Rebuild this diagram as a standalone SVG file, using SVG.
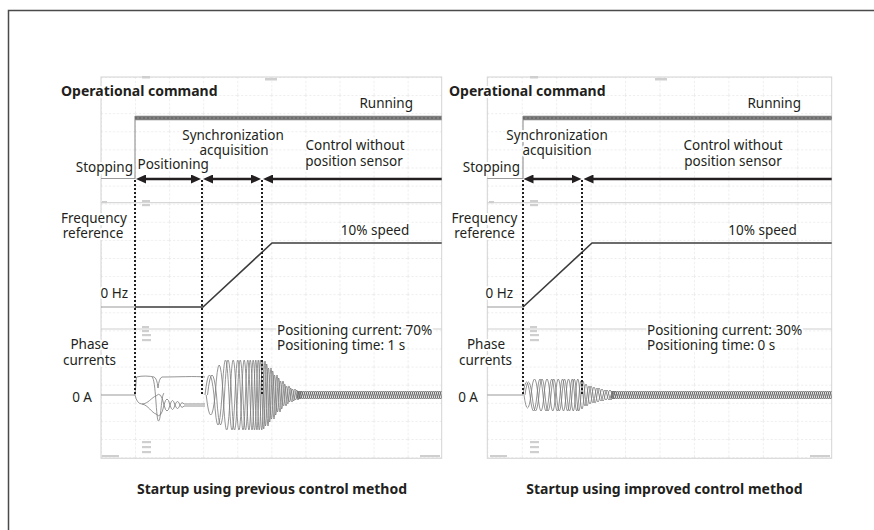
<svg xmlns="http://www.w3.org/2000/svg" xmlns:xlink="http://www.w3.org/1999/xlink" width="874" height="530" viewBox="0 0 874 530">
<defs>
<style>
.t{font-family:"Noto Sans","Liberation Sans",sans-serif;font-size:13.5px;fill:#231f20;paint-order:stroke;stroke:#fff;stroke-width:4px;stroke-linejoin:round}
.b{font-weight:bold;font-size:14px}
.m{text-anchor:middle}
.e{text-anchor:end}
.plotL{fill:url(#gridL);stroke:#d4d4d4;stroke-width:1}
.plotR{fill:url(#gridR);stroke:#d4d4d4;stroke-width:1}
.div{stroke:#cfcfcf;stroke-width:1;fill:none}
.arr{stroke:#231f20;stroke-width:2.6;fill:none}
.dot{stroke:#231f20;stroke-width:2;stroke-dasharray:2 2;fill:none}
.wave{stroke:#7a7a7a;stroke-width:0.8;fill:none}
.freq{stroke:#3c3c3c;stroke-width:1.6;fill:none}
.pre{stroke:#9a9a9a;stroke-width:1.2;fill:none}
.run{stroke:#808080;stroke-width:4.5;fill:none}
.runt{stroke:#5a5a5a;stroke-width:1.2;stroke-dasharray:2 2;fill:none}
.blob{fill:#cfcfcf}
</style>
<marker id="ah" markerUnits="userSpaceOnUse" markerWidth="10" markerHeight="9" refX="5" refY="4.5" orient="auto-start-reverse" viewBox="0 0 10 9"><path d="M0,0 L10,4.5 L0,9 z" fill="#231f20"/></marker>
<pattern id="gridL" patternUnits="userSpaceOnUse" x="101" y="77" width="34.07" height="18.1"><path d="M0,0.5H34.07M0.5,0V18.1" stroke="#ececec" stroke-width="1" stroke-dasharray="2 2" fill="none"/></pattern>
<pattern id="gridR" patternUnits="userSpaceOnUse" x="487.3" y="77" width="34.44" height="18.1"><path d="M0,0.5H34.44M0.5,0V18.1" stroke="#ececec" stroke-width="1" stroke-dasharray="2 2" fill="none"/></pattern>
<pattern id="band" patternUnits="userSpaceOnUse" x="0" y="389" width="6" height="12">
<g fill="none" stroke="#6a6a6a" stroke-width="0.9">
<path id="bw" d="M-6,6 Q-4.5,-2 -3,6 Q-1.5,14 0,6 Q1.5,-2 3,6 Q4.5,14 6,6 Q7.5,-2 9,6 Q10.5,14 12,6"/>
<use xlink:href="#bw" href="#bw" x="2"/>
<use xlink:href="#bw" href="#bw" x="4"/>
</g>
</pattern>
<path id="w1" class="wave" d="M205,395 Q209.5,355 214,395 Q218,455 222,395 Q225.5,325 229,395 Q232,465 235,395 Q237.75,325 240.5,395 Q243,465 245.5,395 Q247.75,325 250,395 Q252,465 254,395 Q255.75,325 257.5,395 Q259.25,465 261,395 Q262.5,327 264,395 Q265.5,457 267,395 Q268.5,341 270,395 Q271.5,443 273,395 Q274.5,355 276,395 Q277.5,429 279,395 Q280.5,367 282,395 Q283.5,417 285,395 Q286.5,377 288,395 Q289.5,409 291,395 Q292.5,383 294,395 Q295.5,405 297,395 Q298.5,387 300,395"/>
<path id="w2" class="wave" d="M523,395 Q526.5,369 530,395 Q533.5,427 537,395 Q540,363 543,395 Q546,427 549,395 Q551.75,363 554.5,395 Q557.25,427 560,395 Q562.5,363 565,395 Q567.5,427 570,395 Q572.25,363 574.5,395 Q576.75,427 579,395 Q581,367 583,395 Q585,417 587,395 Q589,377 591,395 Q593,411 595,395 Q597,381 599,395 Q601,407 603,395 Q605,385 607,395 Q609,405 611,395 Q613,387 615,395"/>
</defs>

<rect x="0" y="0" width="874" height="530" fill="#fff"/>
<path id="frame" d="M8.5,530V10.5H874" fill="none" stroke="#4a4a4a" stroke-width="1.5"/>

<!-- LEFT PANEL -->
<g id="panel-left">
  <g id="scope-left">
    <rect class="plotL" x="101" y="77" width="340.7" height="381.3"/>
    <path class="div" d="M101,202.7H441.7M101,329H441.7"/>
    <rect class="blob" x="142" y="76" width="8" height="2.5"/>
    <rect class="blob" x="265" y="78" width="12" height="2.5"/>
    <rect class="blob" x="142" y="200" width="8" height="2.2"/>
    <rect class="blob" x="142" y="204" width="8" height="2.2"/>
    <rect class="blob" x="102" y="201" width="5" height="2.2"/>
    <rect class="blob" x="142" y="326" width="7" height="2.2"/>
    <rect class="blob" x="142" y="330" width="7" height="2.2"/>
    <rect class="blob" x="142" y="334" width="9" height="2.2"/>
    <rect class="blob" x="142" y="339" width="9" height="2.2"/>
    <rect class="blob" x="142" y="441" width="9" height="2.2"/>
    <rect class="blob" x="142" y="446" width="9" height="2.2"/>
    <rect class="blob" x="142" y="451" width="9" height="2.2"/>
    <rect class="blob" x="102" y="455" width="17" height="2.2"/>
    <rect class="blob" x="420" y="455" width="20" height="2.2"/>
  </g>
  <g id="trace-op-left">
    <path class="pre" d="M101,178.5H135M135,116V179"/>
    <path class="run" d="M135,118H441.7"/>
    <path class="runt" d="M135,118H441.7"/>
  </g>
  <g id="trace-freq-left">
    <path class="pre" d="M101,307H135"/>
    <path class="freq" d="M135,307H203L272,243H441.7"/>
  </g>
  <g id="trace-phase-left">
    <path class="pre" d="M101,395H135"/>
    <path class="wave" d="M135,395 L136.5,377 C142,375.5 150,376 154,377 Q157,378 158,388 Q159,378 162,377 C178,377 195,376 205,377"/>
    <path class="wave" d="M135,395 Q137,404 142,404 C148,404 152,397 156,396 Q161,390 164,405 Q167,417 170,405 Q172.5,396 175,405 Q177.5,412 180,405 Q182,401 184,404 L205,404"/>
    <path class="wave" d="M142,404 C148,405 152,413 156,414 Q161,420 164,405 Q167,393 170,405 Q172.5,414 175,405 Q177.5,398 180,405 Q182,409 184,406 L205,406"/>
    <path class="wave" d="M152,377 C156,379 156,421 158.5,421 C161,421 161,396 164,393"/>
    <use xlink:href="#w1" href="#w1"/>
    <use xlink:href="#w1" href="#w1" transform="translate(2.5,0)"/>
    <use xlink:href="#w1" href="#w1" transform="matrix(1,0,0,-1,1.2,790)"/>
    <rect x="297" y="389" width="144.7" height="12" fill="url(#band)"/>
  </g>
</g>

<!-- RIGHT PANEL -->
<g id="panel-right">
  <g id="scope-right">
    <rect class="plotR" x="487.3" y="77" width="344.4" height="381.3"/>
    <path class="div" d="M487.3,202.7H831.7M487.3,329H831.7"/>
    <rect class="blob" x="530" y="76" width="8" height="2.5"/>
    <rect class="blob" x="655" y="78" width="12" height="2.5"/>
    <rect class="blob" x="530" y="200" width="8" height="2.2"/>
    <rect class="blob" x="530" y="204" width="8" height="2.2"/>
    <rect class="blob" x="489" y="201" width="5" height="2.2"/>
    <rect class="blob" x="530" y="326" width="7" height="2.2"/>
    <rect class="blob" x="530" y="330" width="7" height="2.2"/>
    <rect class="blob" x="530" y="334" width="9" height="2.2"/>
    <rect class="blob" x="530" y="339" width="9" height="2.2"/>
    <rect class="blob" x="530" y="441" width="9" height="2.2"/>
    <rect class="blob" x="530" y="446" width="9" height="2.2"/>
    <rect class="blob" x="530" y="451" width="9" height="2.2"/>
    <rect class="blob" x="490" y="455" width="17" height="2.2"/>
    <rect class="blob" x="810" y="455" width="20" height="2.2"/>
  </g>
  <g id="trace-op-right">
    <path class="pre" d="M487.3,178.5H523M523,116V179"/>
    <path class="run" d="M523,118H831.7"/>
    <path class="runt" d="M523,118H831.7"/>
  </g>
  <g id="trace-freq-right">
    <path class="pre" d="M487.3,307H523"/>
    <path class="freq" d="M523,307L592,243H831.7"/>
  </g>
  <g id="trace-phase-right">
    <path class="pre" d="M487.3,395H523"/>
    <use xlink:href="#w2" href="#w2"/>
    <use xlink:href="#w2" href="#w2" transform="translate(2,0)"/>
    <use xlink:href="#w2" href="#w2" transform="matrix(1,0,0,-1,1,790)"/>
    <rect x="611" y="389" width="220.7" height="12" fill="url(#band)"/>
  </g>
</g>

<!-- CONNECTORS: phase arrows and dotted markers -->
<g id="connectors">
  <path class="dot" d="M135,180V395M202,180V395M262,180V395M523,180V395M582,180V395"/>
  <path class="arr" d="M141,179H196" marker-start="url(#ah)" marker-end="url(#ah)"/>
  <path class="arr" d="M208,179H256" marker-start="url(#ah)" marker-end="url(#ah)"/>
  <path class="arr" d="M268,179H441.7" marker-start="url(#ah)"/>
  <path class="arr" d="M528.5,179H576.5" marker-start="url(#ah)" marker-end="url(#ah)"/>
  <path class="arr" d="M588.5,179H831.7" marker-start="url(#ah)"/>
</g>

<!-- LABELS LEFT -->
<g id="labels-left">
  <text class="t b" x="61" y="96">Operational command</text>
  <text class="t e" x="413" y="108">Running</text>
  <text class="t m" x="233" y="140">Synchronization</text>
  <text class="t m" x="234" y="155">acquisition</text>
  <text class="t m" x="355" y="150">Control without</text>
  <text class="t m" x="354" y="166">position sensor</text>
  <text class="t e" x="133" y="171.5">Stopping</text>
  <text class="t" x="137.5" y="168.5">Positioning</text>
  <text class="t m" x="94" y="223">Frequency</text>
  <text class="t m" x="93" y="238">reference</text>
  <text class="t m" x="375" y="235">10% speed</text>
  <text class="t e" x="128" y="298">0 Hz</text>
  <text class="t" x="277" y="335">Positioning current: 70%</text>
  <text class="t" x="277" y="349.5">Positioning time: 1 s</text>
  <text class="t m" x="89.5" y="349">Phase</text>
  <text class="t m" x="89.5" y="365">currents</text>
  <text class="t e" x="92" y="402">0 A</text>
  <text class="t b m" x="272" y="494">Startup using previous control method</text>
</g>

<!-- LABELS RIGHT -->
<g id="labels-right">
  <text class="t b" x="449" y="96">Operational command</text>
  <text class="t e" x="801" y="108">Running</text>
  <text class="t m" x="557" y="140">Synchronization</text>
  <text class="t m" x="557" y="154.5">acquisition</text>
  <text class="t m" x="733" y="150">Control without</text>
  <text class="t m" x="733" y="166">position sensor</text>
  <text class="t e" x="520" y="171.5">Stopping</text>
  <text class="t m" x="484.5" y="223">Frequency</text>
  <text class="t m" x="484.5" y="238">reference</text>
  <text class="t m" x="762.5" y="235">10% speed</text>
  <text class="t e" x="513" y="298">0 Hz</text>
  <text class="t" x="647" y="335">Positioning current: 30%</text>
  <text class="t" x="647" y="349.5">Positioning time: 0 s</text>
  <text class="t m" x="486" y="349">Phase</text>
  <text class="t m" x="485.5" y="365">currents</text>
  <text class="t e" x="478" y="402">0 A</text>
  <text class="t b m" x="664.5" y="494">Startup using improved control method</text>
</g>
</svg>
